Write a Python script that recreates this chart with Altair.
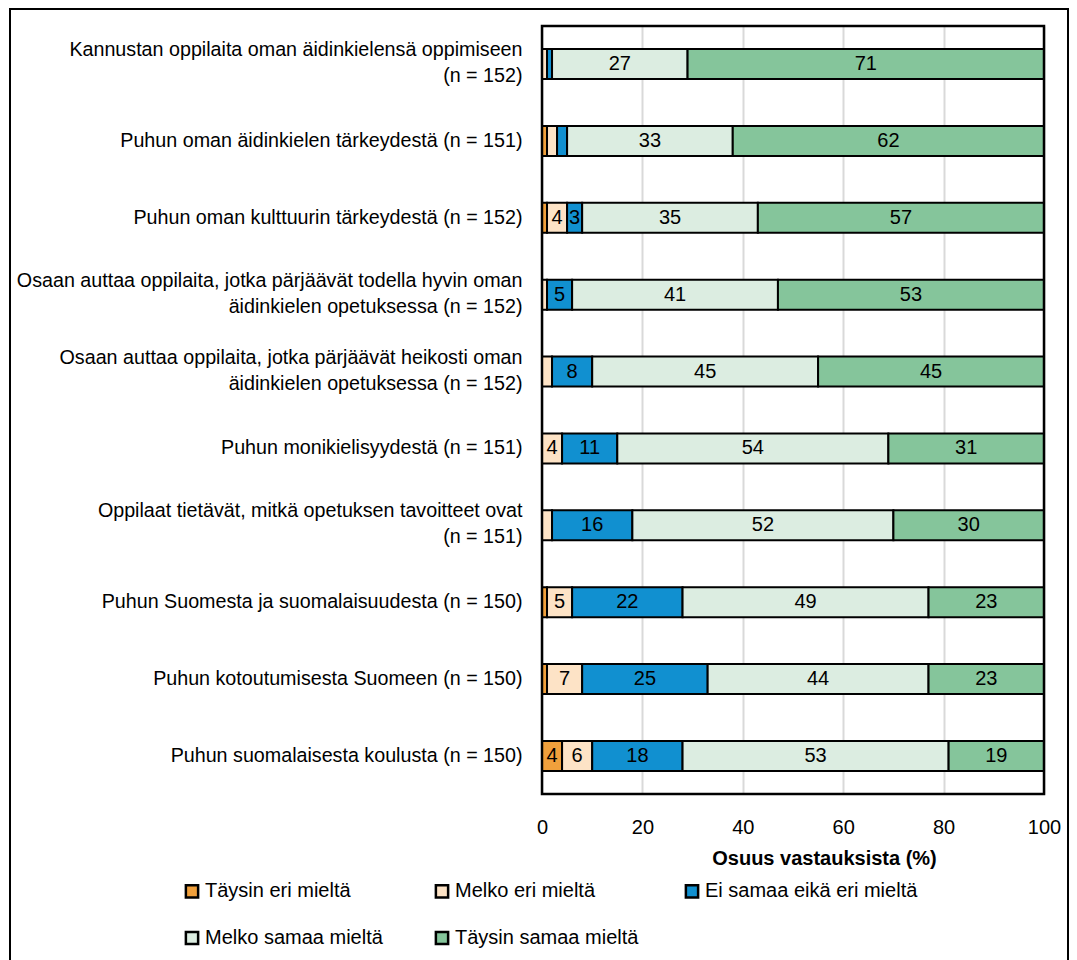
import altair as alt
import pandas as pd

items = [
    "Kannustan oppilaita oman äidinkielensä oppimiseen|(n = 152)",
    "Puhun oman äidinkielen tärkeydestä (n = 151)",
    "Puhun oman kulttuurin tärkeydestä (n = 152)",
    "Osaan auttaa oppilaita, jotka pärjäävät todella hyvin oman|äidinkielen opetuksessa (n = 152)",
    "Osaan auttaa oppilaita, jotka pärjäävät heikosti oman|äidinkielen opetuksessa (n = 152)",
    "Puhun monikielisyydestä (n = 151)",
    "Oppilaat tietävät, mitkä opetuksen tavoitteet ovat|(n = 151)",
    "Puhun Suomesta ja suomalaisuudesta (n = 150)",
    "Puhun kotoutumisesta Suomeen (n = 150)",
    "Puhun suomalaisesta koulusta (n = 150)",
]
categories = [
    "Täysin eri mieltä",
    "Melko eri mieltä",
    "Ei samaa eikä eri mieltä",
    "Melko samaa mieltä",
    "Täysin samaa mieltä",
]
colors = ["#F0A03C", "#FDE3C6", "#1190D0", "#DCEDE1", "#85C59B"]

taysin_eri = [0, 1, 1, 0, 0, 0, 0, 1, 1, 4]
melko_eri = [1, 2, 4, 1, 2, 4, 2, 5, 7, 6]
ei_samaa = [1, 2, 3, 5, 8, 11, 16, 22, 25, 18]
melko_samaa = [27, 33, 35, 41, 45, 54, 52, 49, 44, 53]
taysin_samaa = [71, 62, 57, 53, 45, 31, 30, 23, 23, 19]

series = [taysin_eri, melko_eri, ei_samaa, melko_samaa, taysin_samaa]
rows = []
for ci, (cat, vals) in enumerate(zip(categories, series)):
    for it, v in zip(items, vals):
        rows.append({"item": it, "cat": cat, "ord": ci, "value": v})
df = pd.DataFrame(rows)

FONT = "Liberation Sans"
FS = 20

base = alt.Chart(df).transform_stack(
    stack="value", groupby=["item"], sort=[alt.SortField("ord")], as_=["x0", "x1"]
).transform_calculate(mid="(datum.x0 + datum.x1) / 2")

yenc = alt.Y(
    "item:N",
    sort=items,
    title=None,
    scale=alt.Scale(paddingInner=0.61, paddingOuter=0.3),
    axis=alt.Axis(
        labelExpr="split(datum.label, '|')",
        labelLimit=700,
        labelFontSize=19.7,
        labelLineHeight=26,
        labelPadding=20,
        labelOffset={"condition": {"test": "indexof(datum.value, '|') >= 0", "value": -14}, "value": 0},
        labelColor="black",
        labelFont=FONT,
        ticks=False,
        domain=False,
        grid=False,
    ),
)

bars = base.mark_bar(stroke="black", strokeWidth=2).encode(
    x=alt.X(
        "x0:Q",
        scale=alt.Scale(domain=[0, 100], nice=False),
        axis=alt.Axis(
            values=[0, 20, 40, 60, 80, 100],
            title="Osuus vastauksista (%)",
            titleFontSize=FS,
            titleFont=FONT,
            titleFontWeight="bold",
            titleColor="black",
            titleX=282,
            titleY=54,
            titleAlign="center",
            labelFontSize=FS,
            labelFont=FONT,
            labelColor="black",
            labelPadding=23,
            labelFlush=False,
            ticks=False,
            domain=False,
            grid=True,
            gridColor="#D9D9D9",
            gridWidth=2,
        ),
    ),
    x2="x1:Q",
    y=yenc,
    color=alt.Color(
        "cat:N",
        sort=categories,
        scale=alt.Scale(domain=categories, range=colors),
        legend=alt.Legend(
            title=None,
            orient="none",
            legendX=-360,
            legendY=855,
            direction="horizontal",
            columns=3,
            gridAlign="all",
            columnPadding=12,
            rowPadding=23,
            symbolType="square",
            symbolSize=150,
            symbolStrokeColor="black",
            symbolStrokeWidth=2.5,
            labelFontSize=FS,
            labelFont=FONT,
            labelColor="black",
            labelOffset=3,
            labelLimit=400,
        ),
    ),
    order=alt.Order("ord:Q"),
)

texts = base.transform_filter("datum.value >= 3").mark_text(
    fontSize=FS, font=FONT, color="black"
).encode(
    x=alt.X("mid:Q"),
    y=alt.Y("item:N", sort=items),
    text=alt.Text("value:Q"),
)

frame = alt.Chart(pd.DataFrame({"a": [0]})).mark_rect(
    fill=None, stroke="black", strokeWidth=2.5, clip=False
).encode(
    x=alt.value(0), x2=alt.value(502), y=alt.value(0), y2=alt.value(768)
)

outer = alt.Chart(pd.DataFrame({"a": [0]})).mark_rect(
    fill=None, stroke="black", strokeWidth=2, clip=False
).encode(
    x=alt.value(-532), x2=alt.value(526), y=alt.value(-17), y2=alt.value(940)
)

chart = alt.layer(bars, texts, frame, outer).properties(
    width=502,
    height=768,
    autosize=alt.AutoSizeParams(type="none"),
    padding={"left": 534, "top": 18, "right": 25, "bottom": 166},
).configure_view(stroke=None).configure(background="white")

chart.save("out.html", embed_options={"renderer": "svg", "actions": False})
